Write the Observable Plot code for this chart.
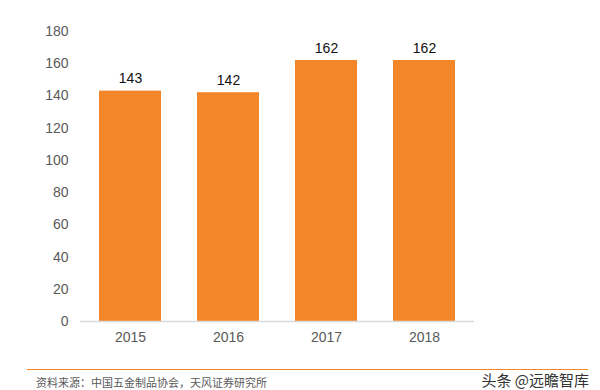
<!DOCTYPE html>
<html>
<head>
<meta charset="utf-8">
<script src="https://cdn.jsdelivr.net/npm/d3@7"></script>
<script src="https://cdn.jsdelivr.net/npm/@observablehq/plot@0.6"></script>
<style>
  html, body { margin: 0; padding: 0; background: #fff; }
  #wrap { position: relative; width: 600px; height: 390px; overflow: hidden; font-family: "Liberation Sans", Arial, sans-serif; }
  #rule { position: absolute; left: 27px; top: 369px; width: 561px; height: 0; border-top: 1.5px solid #f4862a; }
  #src { position: absolute; left: 36px; top: 375px; font-size: 11px; color: #595959; font-family: "Noto Sans CJK SC", sans-serif; line-height: 14px; }
  #mark { position: absolute; right: 11px; top: 371px; font-size: 15px; color: #333; font-family: "Noto Sans CJK SC", sans-serif; line-height: 18px; }
</style>
</head>
<body>
<div id="wrap">
  <div id="chart"></div>
  <div id="rule"></div>
  <div id="src">资料来源：中国五金制品协会，天风证券研究所</div>
  <div id="mark">头条 @远瞻智库</div>
</div>
<script>
const years = ["2015", "2016", "2017", "2018"];
const values = [143, 142, 162, 162];
const yTicks = [0, 20, 40, 60, 80, 100, 120, 140, 160, 180];

const data = years.map((y, i) => ({year: y, value: values[i]}));
const orange = "#f4862a";

const chart = Plot.plot({
  width: 600,
  height: 360,
  marginLeft: 80,
  marginRight: 126,
  marginTop: 31,
  marginBottom: 39,
  style: {fontFamily: "'Liberation Sans', Arial, sans-serif", fontSize: "14px", color: "#595959", background: "#fff"},
  x: {domain: years, padding: 0.37, paddingOuter: 0.185, align: 0.5, label: null, tickSize: 0, tickPadding: 11},
  y: {domain: [0, 180], ticks: yTicks, label: null, tickSize: 0, tickPadding: 12},
  marks: [
    Plot.barY(data, {x: "year", y: "value", fill: orange}),
    Plot.ruleY([0], {stroke: "#d9d9d9", strokeWidth: 1.5}),
    Plot.text(data, {x: "year", y: "value", text: d => String(d.value), lineAnchor: "bottom", dy: -8, fill: "#111", fontSize: 14})
  ]
});
document.getElementById("chart").appendChild(chart);
</script>
</body>
</html>
